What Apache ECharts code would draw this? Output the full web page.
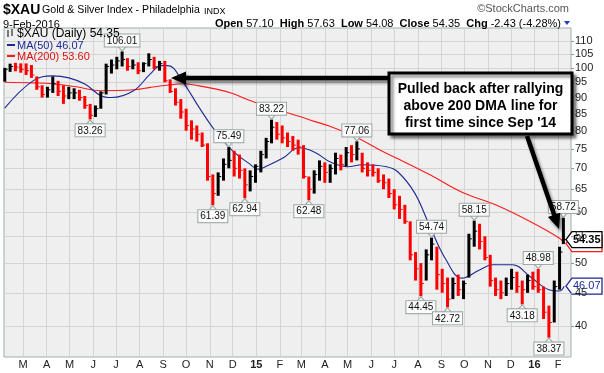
<!DOCTYPE html>
<html><head><meta charset="utf-8">
<script src="https://cdn.jsdelivr.net/npm/echarts@6/dist/echarts.min.js"></script>
<style>html,body{margin:0;padding:0;background:#fff}#c{width:604px;height:373px}</style>
</head><body><div id="c"></div>
<script>
// ---- data (weekly bars) ----
const weekDates = ['2014-02-05','2014-02-12','2014-02-19','2014-02-26','2014-03-05','2014-03-12','2014-03-19','2014-03-26','2014-04-02','2014-04-09','2014-04-16','2014-04-23','2014-04-30','2014-05-07','2014-05-14','2014-05-21','2014-05-28','2014-06-04','2014-06-11','2014-06-18','2014-06-25','2014-07-02','2014-07-09','2014-07-16','2014-07-23','2014-07-30','2014-08-06','2014-08-13','2014-08-20','2014-08-27','2014-09-03','2014-09-10','2014-09-17','2014-09-24','2014-10-01','2014-10-08','2014-10-15','2014-10-22','2014-10-29','2014-11-05','2014-11-12','2014-11-19','2014-11-26','2014-12-03','2014-12-10','2014-12-17','2014-12-24','2014-12-31','2015-01-07','2015-01-14','2015-01-21','2015-01-28','2015-02-04','2015-02-11','2015-02-18','2015-02-25','2015-03-04','2015-03-11','2015-03-18','2015-03-25','2015-04-01','2015-04-08','2015-04-15','2015-04-22','2015-04-29','2015-05-06','2015-05-13','2015-05-20','2015-05-27','2015-06-03','2015-06-10','2015-06-17','2015-06-24','2015-07-01','2015-07-08','2015-07-15','2015-07-22','2015-07-29','2015-08-05','2015-08-12','2015-08-19','2015-08-26','2015-09-02','2015-09-09','2015-09-16','2015-09-23','2015-09-30','2015-10-07','2015-10-14','2015-10-21','2015-10-28','2015-11-04','2015-11-11','2015-11-18','2015-11-25','2015-12-02','2015-12-09','2015-12-16','2015-12-23','2015-12-30','2016-01-06','2016-01-13','2016-01-20','2016-01-27','2016-02-03','2016-02-08'];
const weekHigh = [100,101.5,101.8,101.6,101.6,101,97,94,93.5,97,95.5,94,93.5,93,92.5,90.5,88,87.5,92,101.5,103,104,106.01,103.5,103,102,102,105.3,104,102.5,102.5,96,93,89.5,86.5,83,81.5,79.5,76.5,68.5,69,72.5,75.49,74.5,73.5,70,69.5,71,74.5,78,83.22,82.5,81.5,79.5,78.5,77.5,76,68,69.5,72,71.5,71,74,73.5,75.5,76,77.06,74,71.5,71,70,68.5,67.5,65,63.5,61.5,58,52,50,52.5,54.74,53,49,47.5,47.5,48,47,55.5,58.15,57.5,55,51.5,47.5,47,47.5,49,48.5,47,48,48.5,48.98,46,43,47,53,58.72];
const weekLow = [95.2,98.6,98.8,98.3,97.5,96.5,92.5,90,90,91.5,90.5,88,89.5,89.5,89,86.5,83.26,84,86.5,91,98,99.5,100.5,99,99.5,97.8,98.5,100.5,99.5,99,95,91.5,87.5,83.5,80,77.5,77,75.5,67,61.39,63.5,67,70,68,67.5,62.94,64.5,66.5,69,72.5,76.5,77.5,76.5,75.5,74.5,73.5,67.5,62.48,64,67,66.5,66.5,68.5,69.5,70.5,71.5,72,69,68,68,66.5,65,63,60.5,58.5,57.5,50.5,47,44.45,47,50.5,45.5,45,42.72,44,44.5,44,47.5,53,52.5,50.5,46,44.5,44,44.5,45.5,45,43.18,45,45.5,45,41,38.37,40.5,45.5,53.5];
const weekClose = [99.5,100.5,100.3,99.5,99,97.5,93.5,91,92.5,94.5,92,90.5,91.5,91.5,90,87.5,84.5,86.5,91.5,100.5,101,102.5,103,100.5,101,99,101.5,103,100.5,101.5,95.5,92,88.5,85.5,81.5,80.5,79,76,68,64,68,71,72,70,69.5,66,68,70.5,73.5,77,81,79,78,77,76,75.5,68,65,68.5,70.5,69,70,72.5,71,74,73.5,75,70,69.5,69,67,66.5,64,61.5,60.5,58,51.5,49,46.5,51.5,53.5,48,46.5,44,46.5,45.5,46.5,54.5,56,54,51,47,45.5,45,46.5,47.5,46,45.5,47,46,45.5,42,40.5,46,52,54.35];

const ma50Dates = ['2014-02-05','2014-03-14','2014-04-09','2014-04-30','2014-05-21','2014-06-11','2014-06-25','2014-07-24','2014-08-15','2014-08-29','2014-09-07','2014-09-27','2014-10-18','2014-11-08','2014-11-30','2014-12-22','2015-01-04','2015-01-15','2015-02-05','2015-02-26','2015-03-18','2015-04-09','2015-05-01','2015-05-20','2015-06-21','2015-07-06','2015-07-28','2015-08-17','2015-09-07','2015-09-28','2015-10-21','2015-11-07','2015-12-03','2015-12-27','2016-01-20','2016-02-03','2016-02-09'];
const ma50Values = [86.7,95.5,97.2,96.5,94.4,90.6,90.0,92.2,97.9,100.8,100.8,95.0,86.9,80.0,74.7,71.3,69.8,70.6,72.6,75.3,74.2,71.5,70.4,70.9,70.4,69.1,64.1,56.9,50.6,47.4,48.8,49.7,49.7,47.6,45.5,45.3,46.07];

const ma200Dates = ['2014-02-05','2014-03-14','2014-04-09','2014-05-10','2014-06-11','2014-07-24','2014-08-15','2014-09-06','2014-09-27','2014-10-18','2014-11-08','2014-11-30','2014-12-22','2015-01-15','2015-02-05','2015-02-26','2015-03-18','2015-04-06','2015-05-12','2015-06-20','2015-07-06','2015-08-17','2015-09-28','2015-11-11','2015-12-27','2016-02-03','2016-02-09'];
const ma200Values = [95.0,94.8,94.5,93.5,92.2,92.5,93.3,94.0,94.5,93.8,92.8,91.4,89.2,87.2,85.7,84.2,82.7,81.4,78.2,73.9,72.4,68.4,64.3,61.5,57.9,54.6,53.6];

const yTicks = [40,45,50,55,60,65,70,75,80,85,90,95,100,105,110];
const monthTicks = ['2014-03-01','2014-04-01','2014-05-01','2014-06-01','2014-07-01','2014-08-01','2014-09-01','2014-10-01','2014-11-01','2014-12-01','2015-01-01','2015-02-01','2015-03-01','2015-04-01','2015-05-01','2015-06-01','2015-07-01','2015-08-01','2015-09-01','2015-10-01','2015-11-01','2015-12-01','2016-01-01','2016-02-01'];
const monthLabels = ['M','A','M','J','J','A','S','O','N','D','15','F','M','A','M','J','J','A','S','O','N','D','16','F'];

const annDates = ['2014-07-09','2014-05-28','2014-11-26','2014-11-05','2014-12-17','2015-01-21','2015-03-11','2015-05-13','2015-08-19','2015-08-05','2015-09-09','2015-10-14','2016-01-06','2015-12-16','2016-01-20','2016-02-08'];
const annValues = [106.01,83.26,75.49,61.39,62.94,83.22,62.48,77.06,54.74,44.45,42.72,58.15,48.98,43.18,38.37,58.72];
const annSide = ['top','bottom','top','bottom','bottom','top','bottom','top','top','bottom','bottom','top','top','bottom','bottom','top'];

const lastClose = 54.35, lastMA50 = 46.07, lastMA200 = 53.60;

// ---- chart ----
const FONT = 'Liberation Sans, Arial, sans-serif';
const ts = s => +new Date(s + 'T00:00:00');
const chart = echarts.init(document.getElementById('c'), null, {renderer:'canvas'});
const tickTs = monthTicks.map(ts);
const barData = weekDates.map((d,i) => [ts(d), weekHigh[i], weekLow[i], weekClose[i], (i > 0 && weekClose[i] < weekClose[i-1]) ? 1 : 0]);

const markData = annDates.map((d,i) => {
  const top = annSide[i] === 'top';
  return {
    coord: [ts(d), annValues[i]],
    symbol: 'triangle',
    symbolSize: [9, 5],
    symbolRotate: top ? 180 : 0,
    symbolOffset: [0, top ? -3 : 3],
    itemStyle: {color: '#fbfbfb', borderColor: '#9aa6a6', borderWidth: 1},
    label: {
      show: true, position: top ? 'top' : 'bottom', distance: -1,
      formatter: annValues[i].toFixed(2),
      fontSize: 10, fontFamily: FONT, color: '#111',
      backgroundColor: '#fbfbfb', borderColor: '#9aa6a6', borderWidth: 1,
      padding: [1, 2, 0, 2], lineHeight: 11
    }
  };
});

chart.setOption({
  animation: false,
  backgroundColor: '#ffffff',
  grid: {left: 4, right: 33, top: 28, bottom: 16, show: true, backgroundColor: '#efefef', borderColor: '#9fada7', borderWidth: 1},
  xAxis: {
    type: 'value', min: ts('2014-02-04'), max: ts('2016-02-18'),
    axisLine: {show: false},
    axisTick: {show: false, customValues: tickTs},
    splitLine: {show: true, lineStyle: {color: '#d4d4d4', width: 1}},
    axisLabel: {
      customValues: tickTs, margin: 2, fontSize: 11, fontFamily: FONT, color: '#222',
      formatter: function (val) {
        const i = tickTs.findIndex(t => Math.abs(t - val) < 2 * 86400000);
        if (i < 0) return '';
        const s = monthLabels[i];
        return /^\d+$/.test(s) ? '{b|' + s + '}' : s;
      },
      rich: {b: {fontWeight: 'bold', fontSize: 11, fontFamily: FONT, color: '#222'}}
    }
  },
  yAxis: {
    type: 'log', logBase: 10, position: 'right', min: 35.83, max: 115.2,
    axisLine: {show: false},
    axisTick: {show: true, customValues: yTicks, length: 3, lineStyle: {color: '#8a9a94'}},
    splitLine: {show: true, lineStyle: {color: '#d4d4d4', width: 1}},
    axisLabel: {customValues: yTicks, margin: 4, fontSize: 11, fontFamily: FONT, color: '#222', formatter: v => String(Math.round(v))}
  },
  series: [
    {
      name: 'MA200', type: 'line', data: ma200Dates.map((d,i) => [ts(d), ma200Values[i]]),
      showSymbol: false, smooth: 0.4, lineStyle: {color: '#ff1a1a', width: 1.1}, z: 2
    },
    {
      name: 'MA50', type: 'line', data: ma50Dates.map((d,i) => [ts(d), ma50Values[i]]),
      showSymbol: false, smooth: 0.4, lineStyle: {color: '#1c2a96', width: 1.1}, z: 2
    },
    {
      name: '$XAU', type: 'custom', data: barData, z: 3,
      encode: {x: 0, y: [1, 2]},
      renderItem: function (params, api) {
        const x = api.value(0);
        const hi = api.coord([x, api.value(1)]);
        const lo = api.coord([x, api.value(2)]);
        const cl = api.coord([x, api.value(3)]);
        const color = api.value(4) ? '#ff0000' : '#000000';
        const w = 3;
        return {type: 'group', children: [
          {type: 'rect', shape: {x: hi[0] - w / 2, y: hi[1], width: w, height: Math.max(1, lo[1] - hi[1])}, style: {fill: color}},
          {type: 'line', shape: {x1: cl[0], y1: cl[1], x2: cl[0] + 3, y2: cl[1]}, style: {stroke: color, lineWidth: 1}}
        ]};
      },
      markPoint: {data: markData, z: 6}
    }
  ]
});

// ---- annotations / header ----
const yClose = chart.convertToPixel({yAxisIndex: 0}, lastClose);
const yMA200 = chart.convertToPixel({yAxisIndex: 0}, lastMA200);
const yMA50 = chart.convertToPixel({yAxisIndex: 0}, lastMA50);
function tag(y, txt, color, bold, z) {
  const tip = 566, right = 602;
  return {type: 'group', z: z, children: [
    {type: 'polygon', shape: {points: [[tip, y], [tip + 6, y - 8], [right, y - 8], [right, y + 8], [tip + 6, y + 8]]},
     style: {fill: '#ffffff', stroke: color, lineWidth: 1.3}},
    {type: 'text', x: 573, y: y, style: {text: txt, font: (bold ? 'bold ' : '') + '11px ' + FONT, fill: color, verticalAlign: 'middle'}}
  ]};
}
function arrow(x1, y1, x2, y2) {
  const dx = x2 - x1, dy = y2 - y1, L = Math.hypot(dx, dy);
  const ux = dx / L, uy = dy / L, px = -uy, py = ux;
  const hl = 15, hw = 6.5, sw = 2.2;
  const bx = x2 - ux * hl, by = y2 - uy * hl;
  const pts = [[x1 + px * sw, y1 + py * sw], [bx + px * sw, by + py * sw], [bx + px * hw, by + py * hw], [x2, y2],
               [bx - px * hw, by - py * hw], [bx - px * sw, by - py * sw], [x1 - px * sw, y1 - py * sw]];
  return {type: 'polygon', z: 20, shape: {points: pts},
          style: {fill: '#000', shadowBlur: 3, shadowColor: 'rgba(0,0,0,0.45)', shadowOffsetX: 2, shadowOffsetY: 3}};
}
chart.setOption({
  graphic: [
    {type: 'text', x: 3, y: 3, style: {text: '$XAU', font: 'bold 14px ' + FONT, fill: '#000'}},
    {type: 'text', x: 42, y: 5, style: {text: 'Gold & Silver Index - Philadelphia', font: '10.6px ' + FONT, fill: '#000'}},
    {type: 'text', x: 204, y: 7, style: {text: 'INDX', font: '9px ' + FONT, fill: '#000'}},
    {type: 'text', x: 3, y: 19, style: {text: '9-Feb-2016', font: '11px ' + FONT, fill: '#000'}},
    {type: 'text', x: 569, y: 3, style: {text: '\u00a9StockCharts.com', font: '11px ' + FONT, fill: '#555', align: 'right'}},
    {type: 'text', x: 561, y: 18, style: {
      text: '{b|Open} 57.10  {b|High} 57.63  {b|Low} 54.08  {b|Close} 54.35  {b|Chg} -2.43 (-4.28%)',
      font: '11px ' + FONT, fill: '#000', align: 'right',
      rich: {b: {font: 'bold 11px ' + FONT, fill: '#000'}}}},
    {type: 'polygon', shape: {points: [[564, 21], [570, 21], [567, 25]]}, style: {fill: '#1a3ccc'}},
    // legend inside plot
    {type: 'line', shape: {x1: 8, y1: 30, x2: 8, y2: 37}, style: {stroke: '#000', lineWidth: 1}, z: 10},
    {type: 'line', shape: {x1: 12, y1: 29, x2: 12, y2: 36}, style: {stroke: '#000', lineWidth: 1}, z: 10},
    {type: 'text', x: 17, y: 28, z: 10, style: {text: '$XAU (Daily) 54.35', font: '12px ' + FONT, fill: '#000'}},
    {type: 'line', shape: {x1: 7, y1: 45, x2: 15, y2: 45}, style: {stroke: '#1c2a96', lineWidth: 2}, z: 10},
    {type: 'text', x: 17, y: 40, z: 10, style: {text: 'MA(50) 46.07', font: '11px ' + FONT, fill: '#1c2a96'}},
    {type: 'line', shape: {x1: 7, y1: 56, x2: 15, y2: 56}, style: {stroke: '#ff1a1a', lineWidth: 2}, z: 10},
    {type: 'text', x: 17, y: 51, z: 10, style: {text: 'MA(200) 53.60', font: '11px ' + FONT, fill: '#e01010'}},
    // right value tags
    tag(yMA200, '53.60', '#ff1a1a', false, 30),
    tag(yClose, '54.35', '#000000', true, 31),
    tag(yMA50, '46.07', '#1c2a96', false, 30),
    // callout box
    {type: 'rect', z: 21, shape: {x: 389, y: 73, width: 183, height: 61},
     style: {fill: '#fff', stroke: '#000', lineWidth: 3, shadowBlur: 3, shadowColor: 'rgba(0,0,0,0.45)', shadowOffsetX: 3, shadowOffsetY: 3}},
    {type: 'text', z: 22, x: 480.5, y: 81, style: {text: 'Pulled back after rallying\nabove 200 DMA line for\nfirst time since Sep \'14',
      font: 'bold 14px ' + FONT, fill: '#000', align: 'center', lineHeight: 17}},
    arrow(389, 78, 171, 78),
    arrow(527, 136, 559, 229)
  ]
});
</script></body></html>
